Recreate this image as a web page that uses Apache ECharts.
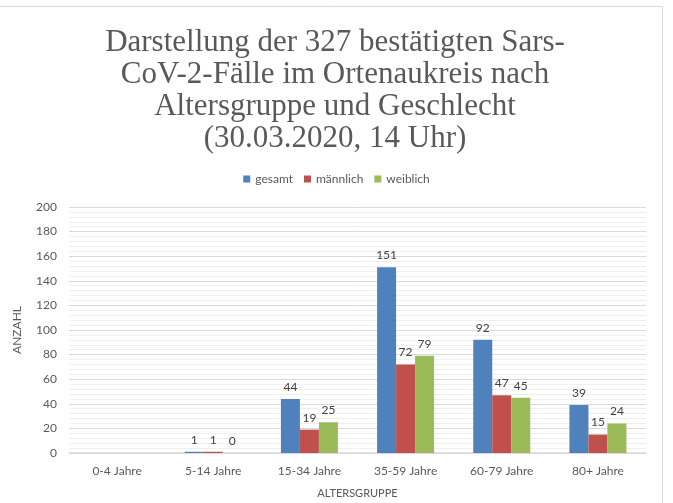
<!DOCTYPE html>
<html><head><meta charset="utf-8">
<script src="https://cdn.jsdelivr.net/npm/echarts@6/dist/echarts.min.js"></script>
<style>html,body{margin:0;padding:0;background:#fff}#c{width:673px;height:503px}</style>
</head><body><div id="c"></div>
<script>
var categories = ['0-4 Jahre','5-14 Jahre','15-34 Jahre','35-59 Jahre','60-79 Jahre','80+ Jahre'];
var gesamt =   [null, 1, 44, 151, 92, 39];
var maennlich = [null, 1, 19, 72, 47, 15];
var weiblich = [null, 0, 25, 79, 45, 24];
var seriesNames = ['gesamt','männlich','weiblich'];
var yMin = 0, yMax = 200, yStep = 20;
var titleText = 'Darstellung der 327 bestätigten Sars-\nCoV-2-Fälle im Ortenaukreis nach\nAltersgruppe und Geschlecht\n(30.03.2020, 14 Uhr)';

var font = 'Lato';
var chart = echarts.init(document.getElementById('c'), null, {renderer:'canvas'});
function mk(name, data, color){
  return {name:name, type:'bar', data:data, barWidth:19, barGap:0,
    itemStyle:{color:color},
    label:{show:true, position:'top', distance:6, color:'#404040', fontSize:12, fontFamily:font}};
}
chart.setOption({
  animation:false,
  graphic:[
    {type:'line', shape:{x1:0,y1:6.5,x2:663,y2:6.5}, style:{stroke:'#d9d9d9', lineWidth:1}},
    {type:'line', shape:{x1:662.5,y1:6,x2:662.5,y2:503}, style:{stroke:'#d9d9d9', lineWidth:1}}
  ],
  title:{text:titleText, left:330, textAlign:'center', top:22,
    textStyle:{fontFamily:'Liberation Serif', fontSize:31, fontWeight:'normal', color:'#595959', lineHeight:32}},
  legend:{top:168, left:'center', itemWidth:7, itemHeight:7, itemGap:11, icon:'rect',
    textStyle:{fontFamily:font, fontSize:12, color:'#595959'}, data:seriesNames},
  grid:{left:69, right:27, top:207, bottom:50},
  xAxis:{type:'category', data:categories,
    axisLine:{lineStyle:{color:'#d9d9d9', width:1.5}}, axisTick:{show:false},
    axisLabel:{color:'#595959', fontSize:12, fontFamily:font, margin:12},
    name:'ALTERSGRUPPE', nameLocation:'middle', nameGap:35,
    nameTextStyle:{color:'#595959', fontSize:11, fontFamily:font}},
  yAxis:{type:'value', min:yMin, max:yMax, interval:yStep,
    axisLine:{show:false}, axisTick:{show:false},
    axisLabel:{color:'#595959', fontSize:12, fontFamily:font, margin:12},
    splitLine:{lineStyle:{color:'#d9d9d9', width:1}},
    minorTick:{show:false, splitNumber:5},
    minorSplitLine:{show:true, lineStyle:{color:'#efefef', width:1}},
    name:'ANZAHL', nameLocation:'middle', nameGap:46, nameRotate:90,
    nameTextStyle:{color:'#595959', fontSize:12, fontFamily:font}},
  series:[mk(seriesNames[0], gesamt, '#4f81bd'), mk(seriesNames[1], maennlich, '#c0504d'), mk(seriesNames[2], weiblich, '#9bbb59')]
});
</script></body></html>
